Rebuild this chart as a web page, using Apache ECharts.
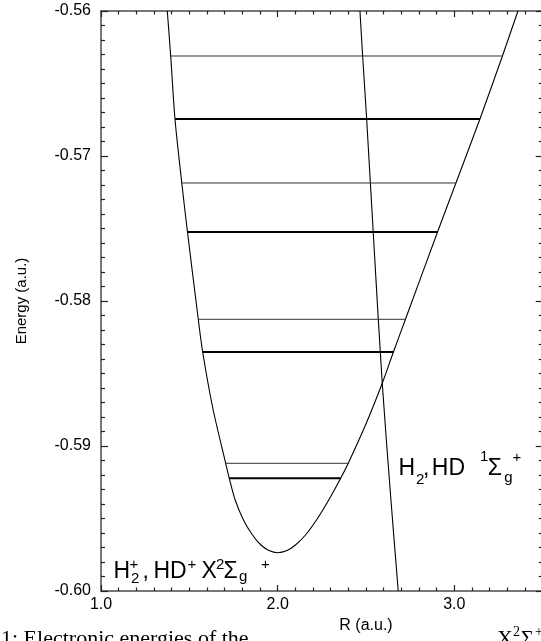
<!DOCTYPE html>
<html><head><meta charset="utf-8">
<script src="https://cdn.jsdelivr.net/npm/echarts@6/dist/echarts.min.js"></script>
<style>html,body{margin:0;padding:0;background:#fff}#c{width:541px;height:641px}</style>
</head><body><div id="c"></div>
<script>
// ---- data ----
const xTickLabels = ['1.0', '2.0', '3.0'];
const yTickLabels = ['-0.60', '-0.59', '-0.58', '-0.57', '-0.56'];

// ion potential curve H2+, HD+ X 2Σg+  (R in a.u., E in a.u.)
const ionR = [1.3752, 1.3945, 1.4188, 1.4573, 1.4895, 1.5507, 1.5755, 1.6327, 1.7057, 1.7261, 1.7595, 1.8064, 1.8574, 1.9055, 1.9508, 2.0000,
              2.0526, 2.1007, 2.1573, 2.2196, 2.2892, 2.3565, 2.3995, 2.5020, 2.5920, 2.6553, 2.7233, 2.9049, 3.0090, 3.1449, 3.2722, 3.3599];
const ionE = [-0.56, -0.563103, -0.567448, -0.571862, -0.575241, -0.581262, -0.583517, -0.587379, -0.591193, -0.592228, -0.593724, -0.595103, -0.596138, -0.596828, -0.597207, -0.597359,
              -0.597207, -0.596828, -0.596138, -0.595103, -0.593724, -0.592228, -0.591193, -0.588414, -0.585676, -0.583517, -0.581262, -0.575241, -0.571862, -0.567448, -0.563103, -0.56];

// neutral curve H2, HD 1Σg+
const neuR = [2.4658, 2.4810, 2.5037, 2.5467, 2.5920, 2.6412, 2.6825];
const neuE = [-0.56, -0.563103, -0.567448, -0.576483, -0.585676, -0.593724, -0.60];

// vibrational levels
const levelE      = [-0.563103, -0.567448, -0.571862, -0.575241, -0.581262, -0.583517, -0.591193, -0.592228];
const levelLeftR  = [1.3945, 1.4188, 1.4573, 1.4895, 1.5507, 1.5755, 1.7057, 1.7261];
const levelRightR = [3.268, 3.145, 3.009, 2.905, 2.723, 2.655, 2.400, 2.357];
const levelThick  = [false, true, false, true, false, true, false, true];

// ---- chart ----
const FONT = '"Liberation Sans", Arial, sans-serif';
const SERIF = '"Liberation Serif", "Times New Roman", serif';
const chart = echarts.init(document.getElementById('c'), null, {renderer: 'canvas'});

const tickStyle = {color: '#222', width: 1.2};
const axisLineStyle = {color: '#777', width: 2};

function xAxisCfg(pos, withLabels) {
  return {
    type: 'value', position: pos, min: 1, max: 4, interval: 1,
    axisLine: {show: true, onZero: false, lineStyle: axisLineStyle},
    axisTick: {show: true, inside: true, length: 6, lineStyle: tickStyle},
    minorTick: {show: true, splitNumber: 10, length: 3.5, lineStyle: tickStyle},
    splitLine: {show: false},
    axisLabel: withLabels ? {
      show: true, color: '#000', fontSize: 16, fontFamily: FONT, margin: 6,
      showMaxLabel: false,
      formatter: v => { const s = v.toFixed(1); return xTickLabels.includes(s) ? s : ''; }
    } : {show: false},
    name: withLabels ? 'R (a.u.)' : '',
    nameLocation: 'middle', nameGap: 26,
    nameTextStyle: {color: '#000', fontSize: 16, fontFamily: FONT}
  };
}
function yAxisCfg(pos, withLabels, offset) {
  return {
    type: 'value', position: pos, min: -0.60, max: -0.56, interval: 0.01, offset: offset,
    axisLine: {show: true, onZero: false, lineStyle: axisLineStyle},
    axisTick: {show: true, inside: true, length: 7, lineStyle: tickStyle},
    minorTick: {show: true, splitNumber: 10, length: 4, lineStyle: tickStyle},
    splitLine: {show: false},
    axisLabel: withLabels ? {
      show: true, color: '#000', fontSize: 16, fontFamily: FONT, margin: 10,
      formatter: v => { const s = v.toFixed(2); return yTickLabels.includes(s) ? s : ''; }
    } : {show: false},
    name: withLabels ? 'Energy (a.u.)' : '',
    nameLocation: 'middle', nameGap: 72, nameRotate: 90,
    nameTextStyle: {color: '#000', fontSize: 15, fontFamily: FONT}
  };
}

const zip = (a, b) => a.map((v, i) => [v, b[i]]);
const series = [
  {type: 'line', data: zip(ionR, ionE), smooth: 0.3, showSymbol: false, clip: true,
   lineStyle: {color: '#000', width: 1.1}},
  {type: 'line', data: zip(neuR, neuE), smooth: 0.3, showSymbol: false, clip: true,
   lineStyle: {color: '#000', width: 1.1}}
];
levelE.forEach((e, i) => {
  series.push({type: 'line', data: [[levelLeftR[i], e], [levelRightR[i], e]], showSymbol: false,
    lineStyle: {color: levelThick[i] ? '#000' : '#333', width: levelThick[i] ? 2 : 1}});
});

// text labels with sub/superscripts
function piece(t, x, base, size, fam) {
  return {type: 'text', x: x, y: base - 0.33 * size, silent: true,
    style: {text: t, font: size + 'px ' + (fam || FONT), fill: '#000',
      align: 'left', verticalAlign: 'middle', textAlign: 'left', textVerticalAlign: 'middle'}};
}
const label1 = [
  ['H', 113.5, 579, 23], ['2', 131, 583.5, 15], ['+', 129.5, 570, 15],
  [',', 142.5, 579, 23], ['HD', 153.5, 579, 23], ['+', 187.5, 570, 15],
  ['X', 201.5, 579, 23], ['2', 216, 570, 15], ['Σ', 223.5, 579, 23],
  ['g', 239, 582, 15], ['+', 261, 570, 15]
];
const label2 = [
  ['H', 398.5, 476.7, 23], ['2', 416, 485, 15], [',', 423, 476.7, 23],
  ['HD', 431.8, 476.7, 23], ['1', 480, 461.7, 15], ['Σ', 487.8, 476.7, 23],
  ['g', 504.3, 483, 15], ['+', 512.5, 462.5, 15]
];
// figure caption, cut by the bottom edge of the picture
const caption = [
  ['1: Electronic energies of the', 1, 646, 22, SERIF],
  ['X', 497, 646, 22, SERIF], ['2', 513, 637, 14, SERIF], ['Σ', 521, 646, 22, SERIF], ['+', 535, 637, 14, SERIF]
];
const graphic = label1.concat(label2).map(p => piece(p[0], p[1], p[2], p[3]))
  .concat(caption.map(p => piece(p[0], p[1], p[2], p[3], p[4])));

chart.setOption({
  animation: false,
  backgroundColor: '#fff',
  grid: {left: 101, top: 11, width: 530, height: 580, containLabel: false, outerBoundsMode: 'none'},
  xAxis: [xAxisCfg('bottom', true), xAxisCfg('top', false)],
  yAxis: [yAxisCfg('left', true, 0), yAxisCfg('right', false, -88.3)],
  series: series,
  graphic: graphic
});
</script></body></html>
